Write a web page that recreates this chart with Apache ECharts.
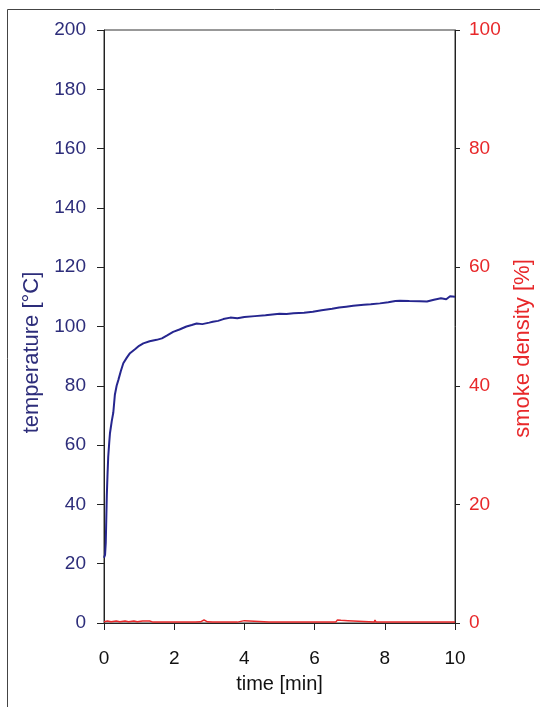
<!DOCTYPE html>
<html>
<head>
<meta charset="utf-8">
<script src="https://cdn.jsdelivr.net/npm/echarts@6/dist/echarts.min.js"></script>
<style>
html,body{margin:0;padding:0;background:#fff;}
#chart{width:540px;height:707px;}
</style>
</head>
<body>
<div id="chart"></div>
<script>
// time [min], temperature [°C]
const tempTime = [0.00,0.03,0.05,0.065,0.08,0.10,0.12,0.15,0.17,0.22,0.265,0.31,0.36,0.41,0.48,0.55,0.65,0.74,0.90,1.00,1.12,1.30,1.50,1.65,1.80,1.97,2.15,2.35,2.50,2.64,2.80,3.00,3.10,3.25,3.40,3.60,3.80,4.00,4.30,4.60,5.00,5.20,5.40,5.70,5.95,6.20,6.50,6.70,6.90,7.10,7.40,7.60,7.86,8.10,8.30,8.43,8.70,9.00,9.20,9.40,9.60,9.75,9.86,10.00];
const tempValues = [22,23,27,35,43,50,56,61,64,68,71,77,80,82,85,87.6,89.5,91,92.5,93.5,94.3,95,95.5,96,97,98.2,99,100,100.5,101,100.8,101.3,101.6,101.9,102.5,103,102.8,103.2,103.5,103.8,104.3,104.2,104.5,104.6,105,105.5,106,106.4,106.7,107,107.3,107.5,107.8,108.2,108.6,108.7,108.6,108.5,108.4,109,109.5,109.2,110.2,110];
// time [min], smoke density [%]
const smokeTime = [0,0.1,0.2,0.35,0.45,0.6,0.7,0.85,0.95,1.1,1.3,1.4,2.6,2.65,2.75,2.85,2.95,3.0,3.1,3.8,3.85,4.0,4.05,4.7,4.72,4.75,6.6,6.65,6.75,6.8,6.95,7.0,7.7,7.72,7.75,10];
const smokeValues = [0.2,0.35,0.2,0.35,0.2,0.35,0.2,0.35,0.2,0.35,0.35,0.15,0.15,0.45,0.2,0.5,0.2,0.35,0.15,0.15,0.45,0.4,0.15,0.15,0.45,0.15,0.15,0.5,0.45,0.2,0.4,0.15,0.15,0.5,0.15,0.15];
const xTicks = {min:0, max:10, interval:2};
const tempTicks = {min:0, max:200, interval:20};
const smokeTicks = {min:0, max:100, interval:20};

const navy = '#2d2d7a';
const red = '#e8282a';
const font = 'Liberation Sans, Arial, sans-serif';

const chart = echarts.init(document.getElementById('chart'), null, {renderer:'canvas'});
chart.setOption({
  animation:false,
  backgroundColor:'#fff',
  graphic:[{
    type:'rect', shape:{x:7.5,y:9.5,width:560,height:720},
    style:{fill:'none',stroke:'#444',lineWidth:1}, silent:true
  }],
  grid:{left:104,right:85,top:30,bottom:84,containLabel:false,outerBoundsMode:'none',
        show:true,borderColor:'#333',borderWidth:1,backgroundColor:'#fff'},
  xAxis:{
    type:'value', min:xTicks.min, max:xTicks.max, interval:xTicks.interval,
    name:'time [min]', nameLocation:'middle', nameGap:51,
    nameTextStyle:{color:'#111',fontSize:20,fontFamily:font},
    axisLine:{show:true,onZero:false,lineStyle:{color:'#222',width:1}},
    axisTick:{show:true,inside:false,length:7,lineStyle:{color:'#222'}},
    axisLabel:{color:'#111',fontSize:19,fontFamily:font,margin:26},
    splitLine:{show:false}
  },
  yAxis:[{
    type:'value', position:'left', min:tempTicks.min, max:tempTicks.max, interval:tempTicks.interval,
    name:'temperature [°C]', nameLocation:'middle', nameGap:61,
    nameTextStyle:{color:navy,fontSize:22,fontFamily:font,padding:[0,52,0,0]},
    axisLine:{show:true,lineStyle:{color:'#222',width:1}},
    axisTick:{show:true,length:7,lineStyle:{color:'#222'}},
    axisLabel:{color:navy,fontSize:19,fontFamily:font,margin:18},
    splitLine:{show:false}
  },{
    type:'value', position:'right', min:smokeTicks.min, max:smokeTicks.max, interval:smokeTicks.interval,
    name:'smoke density [%]', nameLocation:'middle', nameGap:57,
    nameTextStyle:{color:red,fontSize:22,fontFamily:font,padding:[0,44,0,0]},
    axisLine:{show:true,lineStyle:{color:'#222',width:1}},
    axisTick:{show:true,length:5,lineStyle:{color:'#222'}},
    axisLabel:{color:red,fontSize:19,fontFamily:font,margin:14},
    splitLine:{show:false}
  }],
  series:[{
    type:'line', yAxisIndex:1, showSymbol:false, symbol:'none',
    data: smokeTime.map((t,i)=>[t,smokeValues[i]]),
    lineStyle:{color:red,width:1.5}
  },{
    type:'line', yAxisIndex:0, showSymbol:false, symbol:'none',
    data: tempTime.map((t,i)=>[t,tempValues[i]]),
    lineStyle:{color:'#26268f',width:2}
  }]
});
</script>
</body>
</html>
